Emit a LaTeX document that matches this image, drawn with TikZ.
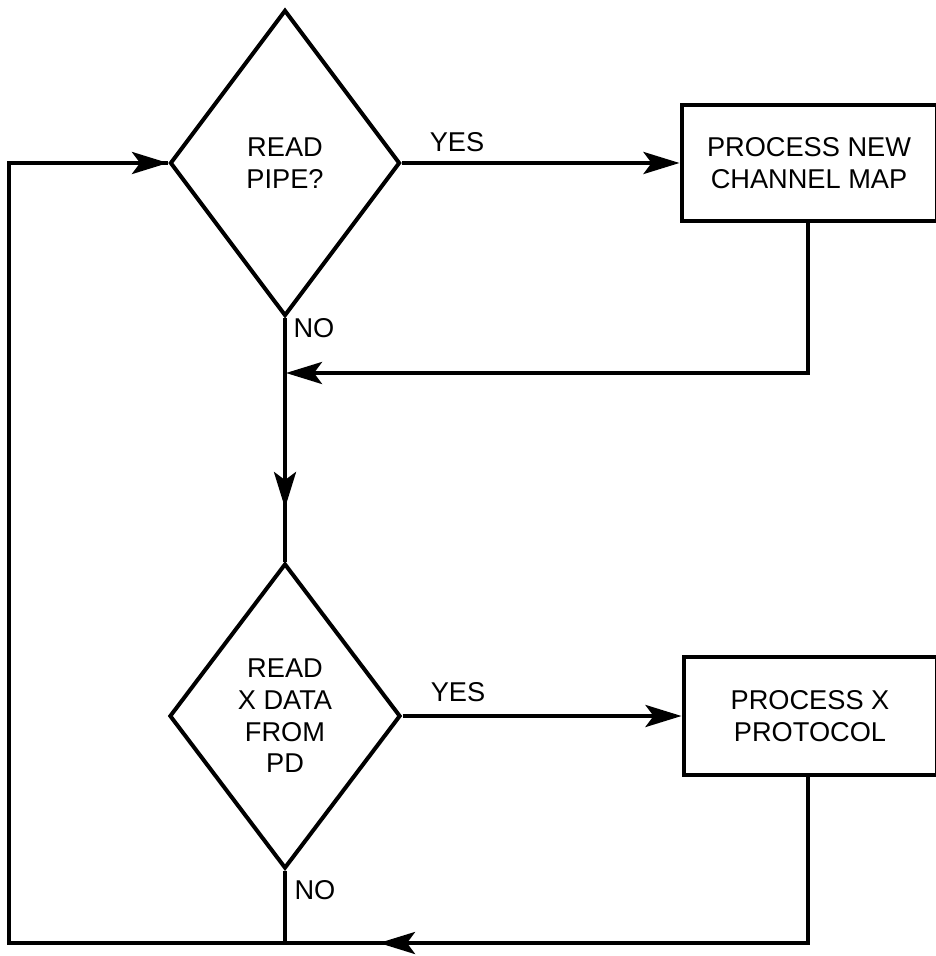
\documentclass[tikz,border=0pt]{standalone}
\usepackage{fontspec}
\setmainfont{Liberation Sans}
\usetikzlibrary{shapes.geometric,arrows.meta}
\begin{document}
\begin{tikzpicture}[x=0.5pt,y=-0.5pt,
  line width=2pt,
  every node/.style={font=\fontsize{13.6}{15.8}\selectfont},
  dec/.style={draw, shape=diamond, inner sep=0pt, align=center},
  proc/.style={draw, rectangle, inner sep=0pt, align=center},
  lbl/.style={inner sep=0pt},
  tip/.style={-{Stealth[length=18pt,width=11pt,inset=4pt]}},
]
\useasboundingbox (0,0) rectangle (935,956);
% decisions
\node[dec, minimum width=115pt, minimum height=153pt] (d1) at (285,163) {READ\\PIPE?};
\node[dec, minimum width=115.5pt, minimum height=152.5pt] (d2) at (285,716) {READ\\X DATA\\FROM\\PD};
% processes
\node[proc, minimum width=127.5pt, minimum height=58pt] (b1) at (809,163) {PROCESS NEW\\CHANNEL MAP};
\node[proc, minimum width=126.5pt, minimum height=59pt] (b2) at (810,716) {PROCESS X\\PROTOCOL};
% labels
\node[lbl] (yes1) at (457,142) {YES};
\node[lbl] (yes2) at (458,692) {YES};
\node[lbl] (no1) at (314,328) {NO};
\node[lbl] (no2) at (315,890) {NO};
% helper coordinates
\coordinate (j1) at (286,373);
\coordinate (a1) at (285,508);
\coordinate (a2) at (379,943);
\coordinate (j2) at (285,943);
\coordinate (bl) at (9,943);
\coordinate (c1) at (808,373);
\coordinate (c2) at (808,943);
% connectors
\draw[tip] (d1.east) -- (b1.west);
\draw[tip] (b1.south -| c1) -- (c1) -- (j1);
\draw (d1.south) -- (d2.north);
\draw[tip] (d1.south) -- (a1);
\draw[tip] (d2.east) -- (b2.west);
\draw (b2.south -| c2) -- (c2) -- (bl) |- (d1.west);
\draw[tip] (c2) -- (a2);
\draw[tip] (bl) |- (d1.west);
\draw (d2.south) -- (j2);
\end{tikzpicture}
\end{document}
